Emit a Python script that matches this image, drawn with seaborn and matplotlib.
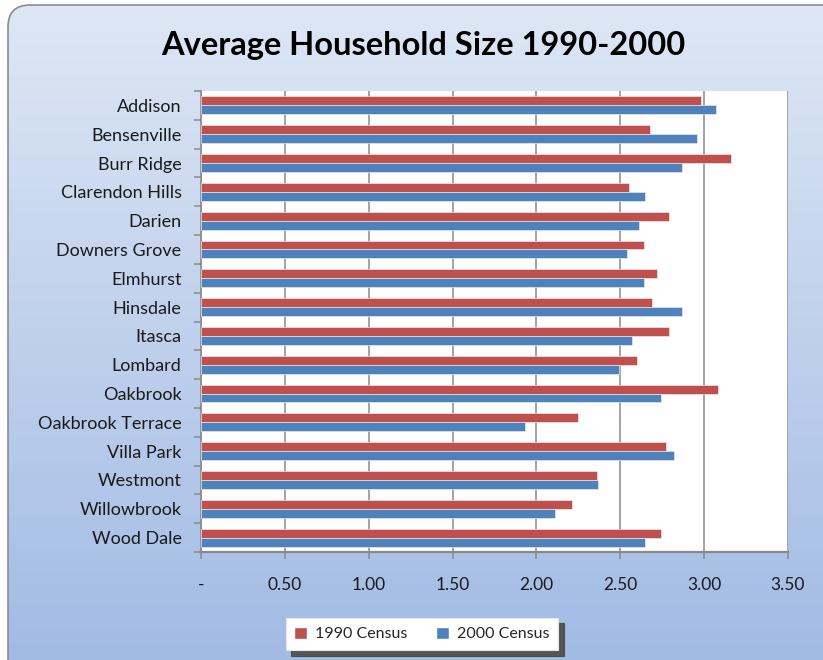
import numpy as np
import pandas as pd
import matplotlib
matplotlib.use("Agg")
import matplotlib.pyplot as plt
from matplotlib.patches import FancyBboxPatch, Patch
import seaborn as sns

towns = ["Addison", "Bensenville", "Burr Ridge", "Clarendon Hills", "Darien",
         "Downers Grove", "Elmhurst", "Hinsdale", "Itasca", "Lombard",
         "Oakbrook", "Oakbrook Terrace", "Villa Park", "Westmont",
         "Willowbrook", "Wood Dale"]
census_1990 = [2.98, 2.68, 3.16, 2.55, 2.79, 2.64, 2.72, 2.69, 2.79, 2.60,
               3.08, 2.25, 2.77, 2.36, 2.21, 2.74]
census_2000 = [3.07, 2.96, 2.87, 2.65, 2.61, 2.54, 2.64, 2.87, 2.57, 2.49,
               2.74, 1.93, 2.82, 2.37, 2.11, 2.65]
series_names = ["1990 Census", "2000 Census"]
x_ticks = [0, 0.5, 1.0, 1.5, 2.0, 2.5, 3.0, 3.5]
x_tick_labels = ["-", "0.50", "1.00", "1.50", "2.00", "2.50", "3.00", "3.50"]
title = "Average Household Size 1990-2000"

df = pd.DataFrame({
    "town": towns * 2,
    "census": [series_names[0]] * len(towns) + [series_names[1]] * len(towns),
    "size": census_1990 + census_2000,
})

sns.set_theme(style="white")
plt.rcParams["font.family"] = ["Lato", "DejaVu Sans"]

W, H = 823, 660
fig = plt.figure(figsize=(W / 100, H / 100), dpi=100)

# background with gradient, rounded frame
bg = fig.add_axes([0, 0, 1, 1], zorder=-10)
bg.set_xlim(0, W)
bg.set_ylim(H, 0)
bg.axis("off")
frame = FancyBboxPatch((8, 5), 860, 700, boxstyle="round,pad=0,rounding_size=22",
                       facecolor="none", edgecolor="#8c8c8c", linewidth=1.2,
                       transform=bg.transData)
bg.add_patch(frame)
top = np.array([0xde, 0xe7, 0xf5]) / 255
bot = np.array([0xa2, 0xbb, 0xe4]) / 255
t = np.linspace(0, 1, 256)[:, None]
grad = (top[None, :] * (1 - t) + bot[None, :] * t)[:, None, :]
grad = np.repeat(grad, 2, axis=1)
im = bg.imshow(grad, extent=[0, W, H, 0], aspect="auto", zorder=0)
im.set_clip_path(frame)

ax = fig.add_axes([201 / W, 1 - 552 / H, 587 / W, 461 / H])
ax.set_facecolor("white")
sns.barplot(data=df, y="town", x="size", hue="census", orient="h",
            palette=["#C0504D", "#4F81BD"], width=0.62, saturation=1,
            edgecolor="#e8e8e8", linewidth=0.5, legend=False, ax=ax, zorder=3)

ax.set_xlim(0, 3.5)
ax.set_xticks(x_ticks)
ax.set_xticklabels(x_tick_labels, fontsize=12.5, color="#1a1a1a")
ax.xaxis.grid(True, color="#8a8a8a", linewidth=1.1, zorder=1)
ax.set_axisbelow(True)
ax.set_xlabel("")
ax.set_ylabel("")
ax.tick_params(axis="y", which="major", length=0, pad=14, labelsize=13,
               labelcolor="#1a1a1a")
ax.tick_params(axis="x", which="major", length=5, width=1.1, color="#8a8a8a",
               direction="out", pad=13)
n = len(towns)
ax.set_yticks(np.arange(-0.5, n, 1.0), minor=True)
ax.tick_params(axis="y", which="minor", length=5, width=1.1, color="#8a8a8a",
               direction="out", left=True)
ax.tick_params(axis="x", bottom=True)
for s in ["top", "right"]:
    ax.spines[s].set_visible(False)
ax.spines["left"].set_color("#8a8a8a")
ax.spines["left"].set_linewidth(1.2)
ax.spines["bottom"].set_color("#8a8a8a")
ax.spines["bottom"].set_linewidth(1.6)

fig.text(423 / W, 1 - 45 / H, title, ha="center", va="center",
         fontsize=23.5, fontweight="bold", color="#000000")

handles = [Patch(facecolor="#C0504D"), Patch(facecolor="#4F81BD")]
leg = fig.legend(handles, series_names, loc="center",
                 bbox_to_anchor=(422 / W, 1 - 634 / H), ncol=2, frameon=True,
                 fontsize=11.5, handlelength=0.8, handleheight=0.8,
                 columnspacing=1.8, handletextpad=0.5, borderpad=0.55,
                 fancybox=False, shadow={"ox": 4, "oy": -4, "facecolor": "#555555", "alpha": 1})
leg.get_frame().set_edgecolor("#e6e6e6")
leg.get_frame().set_linewidth(0.8)

fig.savefig("out.png", dpi=100)
